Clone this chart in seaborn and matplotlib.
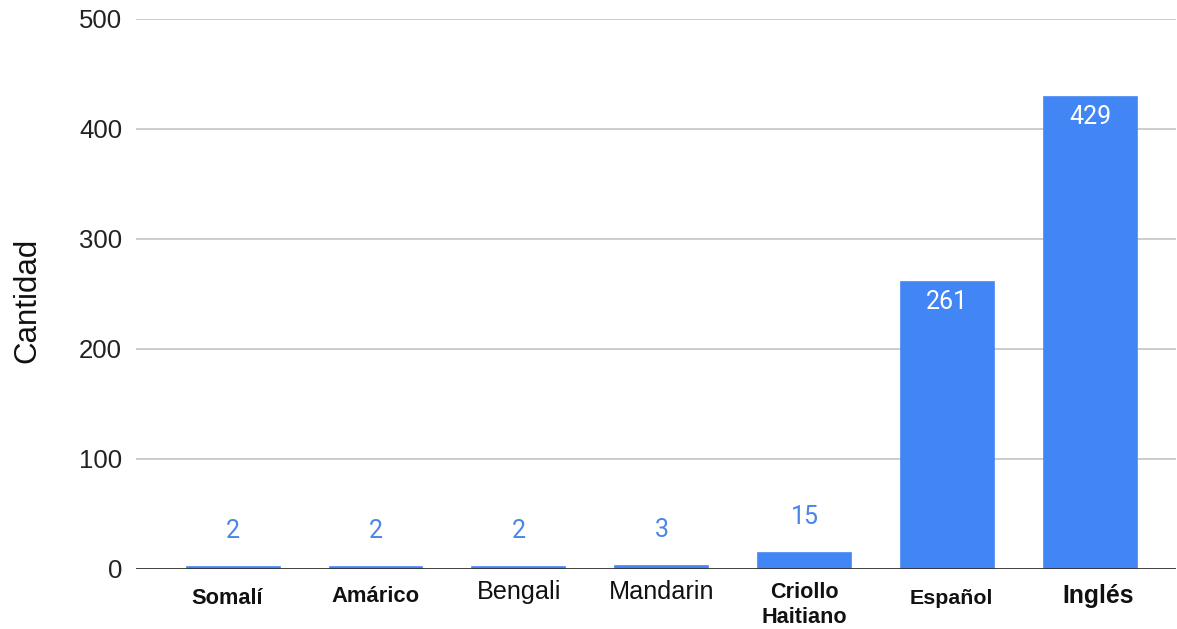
import matplotlib
matplotlib.use("Agg")
import matplotlib.pyplot as plt
import seaborn as sns
import pandas as pd

# Data
idiomas = ["Somalí", "Amárico", "Bengali", "Mandarin", "Criollo\nHaitiano", "Español", "Inglés"]
cantidad = [2, 2, 2, 3, 15, 261, 429]
y_ticks = [0, 100, 200, 300, 400, 500]

# Per-label styling of the category names
label_weights = ["bold", "bold", "normal", "normal", "bold", "bold", "bold"]
label_sizes = [15.7, 15.8, 18.2, 18.2, 15.6, 15.4, 17.8]
label_drop_px = [29, 28, 23, 23, 36, 29, 27]
label_shift_px = [-6, 0, 0, 0, 0, 4, 8]

BAR = "#4285f4"
OUT_LABEL = "#4a86e8"

sns.set_style("white")
plt.rcParams["font.family"] = ["Liberation Sans", "DejaVu Sans"]

df = pd.DataFrame({"idioma": idiomas, "cantidad": cantidad})

fig = plt.figure(figsize=(11.77, 6.29), dpi=100)
ax = fig.add_axes([136 / 1177, 60 / 629, 1040 / 1177, 550 / 629])

sns.barplot(data=df, x="idioma", y="cantidad", color=BAR, saturation=1,
            width=0.65, edgecolor=BAR, linewidth=1.2, ax=ax, zorder=3)

ax.set_ylim(0, 500)
ax.set_xlim(-0.68, 6.6)
ax.set_yticks(y_ticks)
ax.set_yticklabels([str(t) for t in y_ticks], fontsize=18.5, color="#222222")
ax.tick_params(axis="y", length=0, pad=10)
ax.tick_params(axis="x", length=0, labelbottom=False)
ax.set_xlabel("")

for t in y_ticks[1:]:
    ax.axhline(t, color="#cccccc", lw=1.4, zorder=1)
ax.axhline(0, color="#333333", lw=1.3, zorder=4)

for s in ax.spines.values():
    s.set_visible(False)

ax.set_ylabel("Cantidad", fontsize=22.5, color="#111111")
ax.yaxis.set_label_coords(-0.0904, 0.488)

# Category names under the axis
for i, name in enumerate(idiomas):
    ax.annotate(name, xy=(i, 0), xycoords=("data", "axes fraction"),
                xytext=(label_shift_px[i] * 0.72, -label_drop_px[i] * 0.72),
                textcoords="offset points",
                ha="center", va="center", fontsize=label_sizes[i],
                fontweight=label_weights[i], color="#111111", linespacing=1.2)

# Value labels: inside tall bars, above short ones
for i, v in enumerate(cantidad):
    if v > 100:
        ax.annotate(str(v), xy=(i, v), xytext=(0, -20 * 0.72), textcoords="offset points",
                    ha="center", va="center", fontsize=18, color="white",
                    family=["Roboto", "DejaVu Sans"], zorder=5)
    else:
        ax.annotate(str(v), xy=(i, v), xytext=(0, 36 * 0.72), textcoords="offset points",
                    ha="center", va="center", fontsize=18, color=OUT_LABEL,
                    family=["Roboto", "DejaVu Sans"], zorder=5)

fig.savefig("out.png", dpi=100)
